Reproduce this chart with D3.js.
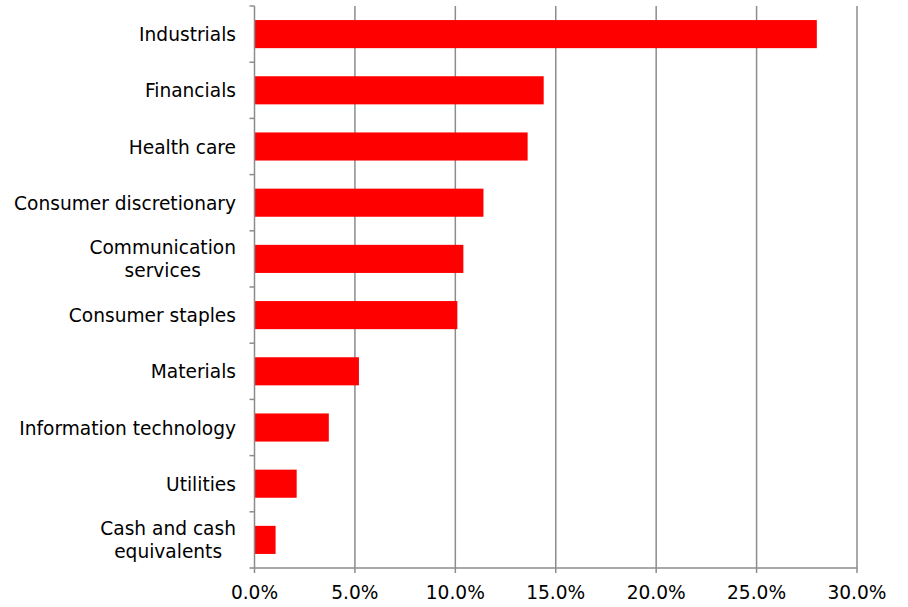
<!DOCTYPE html>
<html>
<head>
<meta charset="utf-8">
<script src="https://cdn.jsdelivr.net/npm/d3@7"></script>
<style>
  body { margin: 0; background: #fff; }
  text { font-family: Verdana, "DejaVu Sans", sans-serif; fill: #000; }
</style>
</head>
<body>
<div id="chart"></div>
<script>
// sectors top to bottom, label lines, weights in %
var sectors = ["Industrials", "Financials", "Health care", "Consumer discretionary",
  "Communication services", "Consumer staples", "Materials", "Information technology",
  "Utilities", "Cash and cash equivalents"];
var labelLines = [["Industrials"], ["Financials"], ["Health care"], ["Consumer discretionary"],
  ["Communication", "services"], ["Consumer staples"], ["Materials"], ["Information technology"],
  ["Utilities"], ["Cash and cash", "equivalents"]];
var weights = [28.0, 14.4, 13.6, 11.4, 10.4, 10.1, 5.2, 3.7, 2.1, 1.05];
var xTicks = [0, 5, 10, 15, 20, 25, 30];

var width = 908, height = 607;
var margin = {top: 6, left: 254.5, right: 51, bottom: 39};
var gridColor = "#8c8c8c";
var fontSize = "18.6px";

var svg = d3.select("#chart").append("svg")
    .attr("width", width)
    .attr("height", height);

var x = d3.scaleLinear().domain([0, 30]).range([margin.left, width - margin.right]);
var y = d3.scaleBand().domain(sectors).range([margin.top, height - margin.bottom])
    .paddingInner(0.5).paddingOuter(0.25);

var plotBottom = height - margin.bottom;

// vertical gridlines
svg.append("g").selectAll("line.grid").data(xTicks.slice(1)).enter().append("line")
    .attr("class", "grid")
    .attr("x1", function(d) { return x(d); })
    .attr("x2", function(d) { return x(d); })
    .attr("y1", margin.top)
    .attr("y2", plotBottom + 5)
    .style("stroke", gridColor)
    .style("stroke-width", 1.5);

// bars
svg.append("g").selectAll("rect").data(weights).enter().append("rect")
    .attr("x", x(0))
    .attr("y", function(d, i) { return y(sectors[i]); })
    .attr("width", function(d) { return x(d) - x(0); })
    .attr("height", y.bandwidth())
    .style("fill", "#ff0000");

// y axis line + ticks between categories
var step = (plotBottom - margin.top) / sectors.length;
svg.append("line")
    .attr("x1", x(0)).attr("x2", x(0))
    .attr("y1", margin.top).attr("y2", plotBottom + 5)
    .style("stroke", gridColor).style("stroke-width", 1.5);
svg.append("g").selectAll("line").data(d3.range(sectors.length + 1)).enter().append("line")
    .attr("x1", x(0) - 5).attr("x2", x(0))
    .attr("y1", function(i) { return margin.top + i * step; })
    .attr("y2", function(i) { return margin.top + i * step; })
    .style("stroke", gridColor).style("stroke-width", 1.5);

// x axis line
svg.append("line")
    .attr("x1", x(0)).attr("x2", x(30))
    .attr("y1", plotBottom).attr("y2", plotBottom)
    .style("stroke", gridColor).style("stroke-width", 1.5);

// x tick labels
svg.append("g").selectAll("text").data(xTicks).enter().append("text")
    .attr("x", function(d) { return x(d); })
    .attr("y", plotBottom + 30.5)
    .attr("text-anchor", "middle")
    .style("font-size", fontSize)
    .text(function(d) { return d.toFixed(1) + "%"; });

// category labels (multi-line blocks right aligned, lines centred)
var labelRight = x(0) - 18.5;
var lineH = 23;
labelLines.forEach(function(lines, i) {
  var cy = y(sectors[i]) + y.bandwidth() / 2;
  var g = svg.append("g");
  var texts = g.selectAll("text").data(lines).enter().append("text")
      .attr("y", function(d, j) { return cy + 7 + (j - (lines.length - 1) / 2) * lineH; })
      .style("font-size", fontSize)
      .text(function(d) { return d; });
  var maxW = 0;
  texts.each(function() { maxW = Math.max(maxW, this.getComputedTextLength()); });
  if (lines.length === 1) {
    texts.attr("x", labelRight).attr("text-anchor", "end");
  } else {
    texts.attr("x", labelRight - maxW / 2).attr("text-anchor", "middle");
  }
});
</script>
</body>
</html>
